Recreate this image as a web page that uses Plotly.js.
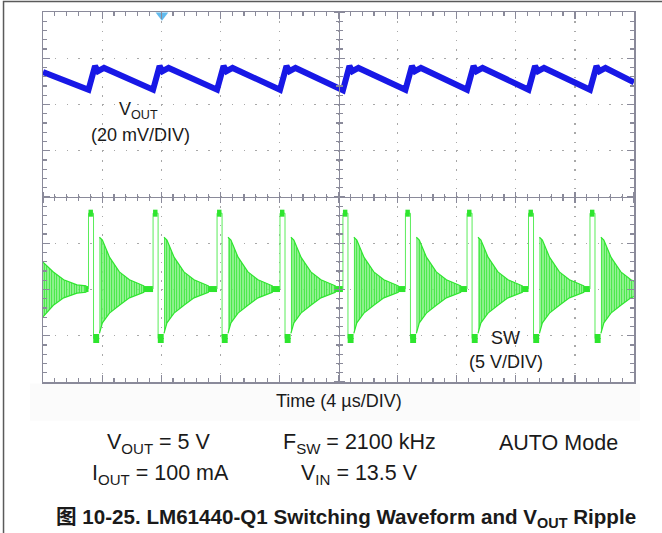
<!DOCTYPE html>
<html><head><meta charset="utf-8">
<script src="https://cdn.plot.ly/plotly-3.0.1.min.js"></script>
<style>html,body{margin:0;padding:0;background:#fff}#chart{width:662px;height:533px}</style>
</head><body><div id="chart"></div>
<script>
// Time in µs (4 µs/DIV, 10 DIV); vertical position in divisions (8 DIV, 0 = centre)
// VOUT trace vertices (20 mV/DIV)
const voutT = [0.00,
  3.08, 3.52, 3.72, 4.13,
  7.45, 7.89, 8.09, 8.50,
  11.78, 12.22, 12.42, 12.83,
  16.04, 16.48, 16.68, 17.09,
  20.30, 20.74, 20.94, 21.35,
  24.53, 24.97, 25.17, 25.58,
  28.70, 29.14, 29.34, 29.75,
  32.86, 33.30, 33.50, 33.91,
  37.02, 37.46, 37.66, 38.07,
  40.00];
const voutV = [2.70,
  2.32, 2.83, 2.72, 2.79,
  2.32, 2.83, 2.72, 2.79,
  2.32, 2.83, 2.72, 2.79,
  2.32, 2.83, 2.72, 2.79,
  2.31, 2.83, 2.72, 2.79,
  2.32, 2.83, 2.72, 2.79,
  2.32, 2.83, 2.72, 2.79,
  2.32, 2.83, 2.72, 2.79,
  2.32, 2.83, 2.72, 2.79,
  2.48];

// SW node (5 V/DIV): switching edges
const swEdgeT = [3.08,3.08,3.42,3.42,3.82,null, 7.45,7.45,7.79,7.79,8.19,null,
  11.78,11.78,12.12,12.12,12.52,null, 16.04,16.04,16.38,16.38,16.78,null,
  20.30,20.30,20.64,20.64,21.04,null, 24.53,24.53,24.87,24.87,25.27,null,
  28.70,28.70,29.04,29.04,29.44,null, 32.86,32.86,33.20,33.20,33.60,null,
  37.02,37.02,37.36,37.36,37.76];
const swEdgeV = [-1.99,-0.35,-0.35,-3.06,-3.06,null, -1.99,-0.35,-0.35,-3.06,-3.06,null,
  -1.99,-0.35,-0.35,-3.06,-3.06,null, -1.99,-0.35,-0.35,-3.06,-3.06,null,
  -1.99,-0.35,-0.35,-3.06,-3.06,null, -1.99,-0.35,-0.35,-3.06,-3.06,null,
  -1.99,-0.35,-0.35,-3.06,-3.06,null, -1.99,-0.35,-0.35,-3.06,-3.06,null,
  -1.99,-0.35,-0.35,-3.06,-3.06];
// high-side on plateaus
const swHiT = [3.08,3.38,null, 7.45,7.75,null, 11.78,12.08,null, 16.04,16.34,null, 20.30,20.60,null,
  24.53,24.83,null, 28.70,29.00,null, 32.86,33.16,null, 37.02,37.32];
const swHiV = [-0.35,-0.35,null, -0.35,-0.35,null, -0.35,-0.35,null, -0.35,-0.35,null, -0.35,-0.35,null,
  -0.35,-0.35,null, -0.35,-0.35,null, -0.35,-0.35,null, -0.35,-0.35];
// low-side on plateaus
const swLoT = [3.40,3.80,null, 7.77,8.17,null, 12.10,12.50,null, 16.36,16.76,null, 20.62,21.02,null,
  24.85,25.25,null, 29.02,29.42,null, 33.18,33.58,null, 37.34,37.74];
const swLoV = [-3.06,-3.06,null, -3.06,-3.06,null, -3.06,-3.06,null, -3.06,-3.06,null, -3.06,-3.06,null,
  -3.06,-3.06,null, -3.06,-3.06,null, -3.06,-3.06,null, -3.06,-3.06];
// DCM ringing envelope (upper / lower) after each pulse
const ringT = [0.00,0.70,1.40,2.30,2.90,null,
  3.82,4.02,4.50,5.17,5.85,6.82,null,
  8.19,8.39,8.87,9.54,10.22,11.19,null,
  12.52,12.72,13.20,13.87,14.55,15.52,null,
  16.78,16.98,17.46,18.13,18.81,19.78,null,
  21.04,21.24,21.72,22.39,23.07,24.04,null,
  25.27,25.47,25.95,26.62,27.30,28.27,null,
  29.44,29.64,30.12,30.79,31.47,32.44,null,
  33.60,33.80,34.28,34.95,35.63,36.60,null,
  37.76,37.96,38.44,39.11,39.79,40.76];
const ringHi = [-1.41,-1.62,-1.79,-1.90,-1.92,null,
  -0.87,-0.93,-1.30,-1.62,-1.79,-1.92,null,
  -0.87,-0.93,-1.30,-1.62,-1.79,-1.92,null,
  -0.87,-0.93,-1.30,-1.62,-1.79,-1.92,null,
  -0.87,-0.93,-1.30,-1.62,-1.79,-1.92,null,
  -0.87,-0.93,-1.30,-1.62,-1.79,-1.92,null,
  -0.87,-0.93,-1.30,-1.62,-1.79,-1.92,null,
  -0.87,-0.93,-1.30,-1.62,-1.79,-1.92,null,
  -0.87,-0.93,-1.30,-1.62,-1.79,-1.92,null,
  -0.87,-0.93,-1.30,-1.62,-1.79,-1.92];
const ringLo = [-2.59,-2.34,-2.18,-2.08,-2.06,null,
  -2.95,-2.72,-2.51,-2.34,-2.18,-2.06,null,
  -2.95,-2.72,-2.51,-2.34,-2.18,-2.06,null,
  -2.95,-2.72,-2.51,-2.34,-2.18,-2.06,null,
  -2.95,-2.72,-2.51,-2.34,-2.18,-2.06,null,
  -2.95,-2.72,-2.51,-2.34,-2.18,-2.06,null,
  -2.95,-2.72,-2.51,-2.34,-2.18,-2.06,null,
  -2.95,-2.72,-2.51,-2.34,-2.18,-2.06,null,
  -2.95,-2.72,-2.51,-2.34,-2.18,-2.06,null,
  -2.95,-2.72,-2.51,-2.34,-2.18,-2.06];
// settled band between ringing and next pulse (≈ VOUT level)
const bandT = [2.90,3.08,null, 6.82,7.45,null, 11.19,11.78,null, 15.52,16.04,null, 19.78,20.30,null,
  24.04,24.53,null, 28.27,28.70,null, 32.44,32.86,null, 36.60,37.02];
const bandV = [-1.99,-1.99,null, -1.99,-1.99,null, -1.99,-1.99,null, -1.99,-1.99,null, -1.99,-1.99,null,
  -1.99,-1.99,null, -1.99,-1.99,null, -1.99,-1.99,null, -1.99,-1.99];

// scope screen markers: trigger position, CH offsets, trigger level
const markT = [8.05, -0.42, -0.40, 40.1];
const markV = [3.93, 2.55, -3.00, 3.85];

// build ringing polygons (upper forward, lower back) from the envelope arrays
const polyX = [], polyY = [];
{
  let seg = [];
  const flush = () => {
    if (!seg.length) return;
    seg.forEach(i => { polyX.push(ringT[i]); polyY.push(ringHi[i]); });
    seg.slice().reverse().forEach(i => { polyX.push(ringT[i]); polyY.push(ringLo[i]); });
    polyX.push(null); polyY.push(null);
    seg = [];
  };
  ringT.forEach((t, i) => { if (t === null) flush(); else seg.push(i); });
  flush();
}

const GREEN = '#2ee52e';
const BLUE = '#1818e6';
const FRAME = '#8a8a9a';
const FONT = 'Liberation Sans, Arial, sans-serif';

const traces = [
  {x: voutT, y: voutV, xaxis: 'x2', yaxis: 'y2', mode: 'lines', line: {color: BLUE, width: 6}, hoverinfo: 'skip'},
  {x: polyX, y: polyY, xaxis: 'x3', yaxis: 'y3', mode: 'lines', fill: 'toself',
   fillcolor: 'rgba(60,230,60,0.5)',
   fillpattern: {shape: '|', fgcolor: GREEN, bgcolor: 'rgba(175,246,175,0.7)', size: 2.5, solidity: 0.55},
   line: {color: GREEN, width: 1.2}, hoverinfo: 'skip'},
  {x: bandT, y: bandV, xaxis: 'x3', yaxis: 'y3', mode: 'lines', line: {color: GREEN, width: 6}, hoverinfo: 'skip'},
  {x: swEdgeT, y: swEdgeV, xaxis: 'x3', yaxis: 'y3', mode: 'lines', line: {color: '#5aec5a', width: 1}, hoverinfo: 'skip'},
  {x: swHiT, y: swHiV, xaxis: 'x3', yaxis: 'y3', mode: 'lines', line: {color: GREEN, width: 7}, hoverinfo: 'skip'},
  {x: swLoT, y: swLoV, xaxis: 'x3', yaxis: 'y3', mode: 'lines', line: {color: GREEN, width: 9}, hoverinfo: 'skip'},
  {x: markT, y: markV, mode: 'markers', cliponaxis: false, hoverinfo: 'skip',
   marker: {symbol: ['triangle-down', 'triangle-right', 'square', 'line-ns'],
            size: [11, 8, 12, 11],
            color: ['#1e9de6', BLUE, GREEN, '#c8884a'],
            line: {color: ['#1e9de6', BLUE, GREEN, '#c8884a'], width: [0, 0, 0, 2.5]}}}
];

const baseAx = {showticklabels: false, zeroline: false, fixedrange: true};
function centreAx(extra) {
  return Object.assign({}, baseAx, {anchor: 'free', position: 0.5, showgrid: false, showline: true,
    linecolor: FRAME, linewidth: 1.2, ticks: 'outside', ticklen: 5, tickcolor: FRAME, tickwidth: 1.2}, extra);
}
function ann(text, x, y, size, ref, bold) {
  return {text: text, x: x, y: y, xref: ref, yref: ref === 'paper' ? 'paper' : 'y',
    xanchor: 'center', yanchor: 'middle', showarrow: false,
    font: {family: bold ? 'Liberation Sans, Noto Sans CJK SC, Arial, sans-serif' : FONT, size: size, color: '#1a1a1a'}};
}
const layout = {
  width: 662, height: 533,
  margin: {l: 43, r: 28, t: 12, b: 151},
  paper_bgcolor: '#ffffff', plot_bgcolor: '#ffffff',
  showlegend: false,
  xaxis: Object.assign({}, baseAx, {range: [0, 40], tick0: 0, dtick: 4,
    showgrid: true, gridcolor: '#a8a8a8', gridwidth: 1.2, griddash: '1.5px,7.75px',
    showline: true, linecolor: FRAME, linewidth: 1.5, mirror: 'allticks',
    ticks: 'inside', ticklen: 7, tickcolor: FRAME, tickwidth: 1.2,
    minor: {ticks: 'inside', ticklen: 4, dtick: 0.8, tick0: 0, tickcolor: FRAME, tickwidth: 1.2, showgrid: false}}),
  yaxis: Object.assign({}, baseAx, {range: [-4, 4], tick0: 0, dtick: 1,
    showgrid: true, gridcolor: '#a8a8a8', gridwidth: 1.2, griddash: '1.5px,10.3px',
    showline: true, linecolor: FRAME, linewidth: 1.5, mirror: 'allticks',
    ticks: 'inside', ticklen: 7, tickcolor: FRAME, tickwidth: 1.2,
    minor: {ticks: 'inside', ticklen: 4, dtick: 0.2, tick0: 0, tickcolor: FRAME, tickwidth: 1.2, showgrid: false}}),
  xaxis2: centreAx({overlaying: 'x', side: 'bottom', range: [0, 40], tick0: 0, dtick: 4,
    minor: {ticks: 'outside', ticklen: 3, dtick: 0.8, tick0: 0, tickcolor: FRAME, tickwidth: 1.2}}),
  xaxis3: centreAx({overlaying: 'x', side: 'top', range: [0, 40], tick0: 0, dtick: 4,
    minor: {ticks: 'outside', ticklen: 3, dtick: 0.8, tick0: 0, tickcolor: FRAME, tickwidth: 1.2}}),
  yaxis2: centreAx({overlaying: 'y', side: 'left', range: [-4, 4], tick0: 0, dtick: 1,
    minor: {ticks: 'outside', ticklen: 3, dtick: 0.2, tick0: 0, tickcolor: FRAME, tickwidth: 1.2}}),
  yaxis3: centreAx({overlaying: 'y', side: 'right', range: [-4, 4], tick0: 0, dtick: 1,
    minor: {ticks: 'outside', ticklen: 3, dtick: 0.2, tick0: 0, tickcolor: FRAME, tickwidth: 1.2}}),
  shapes: [
    {type: 'rect', xref: 'paper', yref: 'paper', x0: -0.0668, x1: 1.3, y0: -1.5, y1: 1.0284,
     line: {color: '#5a5a5a', width: 1.5}, fillcolor: 'rgba(0,0,0,0)', layer: 'above'},
    {type: 'rect', xref: 'paper', yref: 'paper', x0: -0.022, x1: 1.01, y0: -0.105, y1: -0.004,
     line: {width: 0}, fillcolor: '#fbfbfb', layer: 'below'}
  ],
  annotations: [
    ann('V<sub>OUT</sub>', 6.45, 1.86, 18, 'x'),
    ann('(20 mV/DIV)', 6.57, 1.34, 18, 'x'),
    ann('SW', 31.27, -3.05, 18, 'x'),
    ann('(5 V/DIV)', 31.34, -3.57, 18, 'x'),
    ann('Time (4 µs/DIV)', 0.5, -0.051, 18, 'paper'),
    ann('V<sub>OUT</sub> = 5 V', 0.197, -0.165, 21.5, 'paper'),
    ann('F<sub>SW</sub> = 2100 kHz', 0.5355, -0.165, 21.5, 'paper'),
    ann('AUTO Mode', 0.873, -0.165, 21.5, 'paper'),
    ann('I<sub>OUT</sub> = 100 mA', 0.198, -0.251, 21.5, 'paper'),
    ann('V<sub>IN</sub> = 13.5 V', 0.536, -0.251, 21.5, 'paper'),
    ann('<b>图 10-25. LM61440-Q1 Switching Waveform and V<sub>OUT</sub> Ripple</b>', 0.5135, -0.3676, 20.6, 'paper', true)
  ]
};

Plotly.newPlot('chart', traces, layout, {staticPlot: true, displayModeBar: false});
</script>
</body></html>
